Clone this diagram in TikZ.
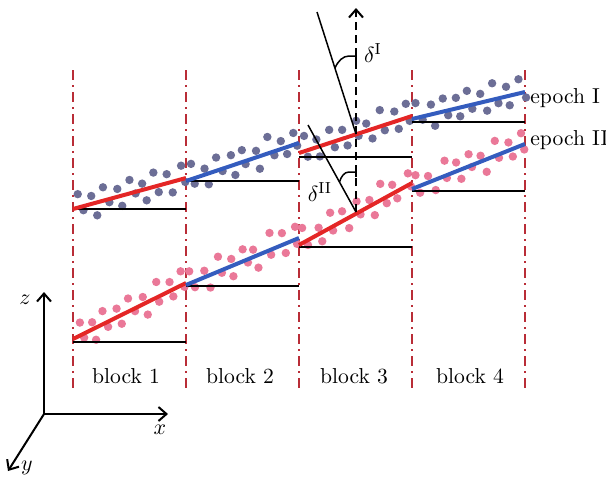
\documentclass[tikz,border=0pt]{standalone}
\usetikzlibrary{arrows.meta}
\definecolor{dred}{RGB}{185,45,55}
\definecolor{lred}{RGB}{228,38,38}
\definecolor{lblue}{RGB}{52,92,190}
\definecolor{dgray}{RGB}{108,110,150}
\definecolor{dpink}{RGB}{234,120,152}
\newcommand\dotseg[5]{%
  \foreach \k/\ua/\lb in {0/-14/5,1/-8/11,2/-15/4,3/-9/10,4/-14/3,5/-7/11,6/-16/5,7/-10/9,8/-13/4}{%
    \pgfmathsetmacro\xa{#1+5+12.8*\k+2*rand}%
    \pgfmathsetmacro\ya{#2+(#4-#2)*(\xa-#1)/(#3-#1)+\ua+2*rand}%
    \pgfmathsetmacro\xb{#1+10+12.8*\k+2*rand}%
    \pgfmathsetmacro\yb{#2+(#4-#2)*(\xb-#1)/(#3-#1)+\lb+2*rand}%
    \fill[#5] (\xa,\ya) circle[radius=2.1pt];
    \fill[#5] (\xb,\yb) circle[radius=2.1pt];
  }}
\begin{document}
\begin{tikzpicture}[x=0.5pt,y=-0.5pt,
  bound/.style={dred, line width=1pt, dash pattern=on 5pt off 2.5pt on 1pt off 2.5pt},
  base/.style={black, line width=1pt},
  fitr/.style={lred, line width=2pt},
  fitb/.style={lblue, line width=2pt},
  thin/.style={black, line width=0.75pt},
  axis/.style={black, line width=1pt, -{Straight Barb[length=4pt,width=7pt]}},
  lbl/.style={font=\fontsize{10.8}{13}\selectfont, inner sep=0pt}]
\useasboundingbox (0,0) rectangle (606,477);
\pgfmathsetseed{7}
% block boundaries
\foreach \x in {73,186,299,412,525}{
  \draw[bound] (\x,70) -- (\x,392);
}
% dots epoch I
\dotseg{73}{209}{186}{178}{dgray}
\dotseg{186}{181}{299}{143}{dgray}
\dotseg{299}{153}{412}{116}{dgray}
\dotseg{412}{119}{525}{92}{dgray}
% dots epoch II
\dotseg{73}{339}{186}{283}{dpink}
\dotseg{186}{285}{299}{238}{dpink}
\dotseg{299}{245}{412}{183}{dpink}
\dotseg{412}{189}{525}{144}{dpink}
% baselines epoch I
\draw[base] (73,209) -- (186,209);
\draw[base] (186,181) -- (299,181);
\draw[base] (299,157) -- (412,157);
\draw[base] (412,122) -- (525,122);
% baselines epoch II
\draw[base] (73,342) -- (186,342);
\draw[base] (186,286) -- (299,286);
\draw[base] (299,247) -- (412,247);
\draw[base] (412,191) -- (525,191);
% fitted lines epoch I
\draw[fitr] (73,209) -- (186,178);
\draw[fitb] (186,181) -- (299,143);
\draw[fitr] (299,153) -- (412,116);
\draw[fitb] (412,119) -- (525,92);
% fitted lines epoch II
\draw[fitr] (73,339) -- (186,283);
\draw[fitb] (186,285) -- (299,238);
\draw[fitr] (299,245) -- (412,183);
\draw[fitb] (412,189) -- (525,144);
% normals and vertical
\coordinate (pI) at (356,134);
\coordinate (pII) at (356,212);
\coordinate (top) at (356,8);
\draw[black, line width=1pt, dash pattern=on 4pt off 2.5pt, -{Straight Barb[length=4pt,width=7pt]}] (pII) -- (top);
\draw[thin] (317,12) -- (pI);
\draw[thin] (308,125) -- (pII);
% angle hooks
\draw[thin] (356,51) -- (356,61);
\draw[thin] (356,56) -- (349,56) .. controls (343,56) and (338,61) .. (335,68);
\draw[thin] (356,167) -- (356,177);
\draw[thin] (356,172) -- (349,172) .. controls (344,172) and (341,177) .. (339.5,182);
\node[lbl] (dI) at (373,53) {$\delta^{\mathrm{I}}$};
\node[lbl] (dII) at (320,192) {$\delta^{\mathrm{II}}$};
% epoch labels
\node[lbl, anchor=west] (eI) at (530,98) {epoch I};
\node[lbl, anchor=west] (eII) at (530,140) {epoch II};
% block labels
\node[lbl] (b1) at (126,376) {block 1};
\node[lbl] (b2) at (240,376) {block 2};
\node[lbl] (b3) at (354,376) {block 3};
\node[lbl] (b4) at (470,376) {block 4};
% axes
\coordinate (o) at (44,414);
\coordinate (zt) at (44,292);
\coordinate (xt) at (168,414);
\coordinate (yt) at (8,471);
\draw[axis] (o) -- (zt);
\draw[axis] (o) -- (xt);
\draw[axis] (o) -- (yt);
\node[lbl] (zl) at (25,300) {$z$};
\node[lbl] (xl) at (160,430) {$x$};
\node[lbl] (yl) at (27,468) {$y$};
\end{tikzpicture}
\end{document}
